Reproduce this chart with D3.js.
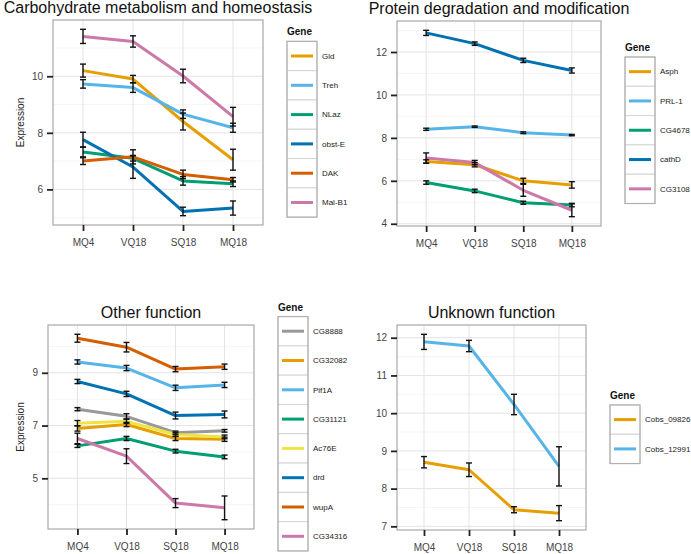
<!DOCTYPE html>
<html>
<head>
<meta charset="utf-8">
<script src="https://cdnjs.cloudflare.com/ajax/libs/d3/7.8.5/d3.min.js"></script>
<style>
body { margin: 0; background: #fff; }
svg { display: block; font-family: "Liberation Sans", Arial, sans-serif; }
</style>
</head>
<body>
<div id="chart"></div>
<script>
// stages on the x axis, shared by all four plots
const stages = ["MQ4", "VQ18", "SQ18", "MQ18"];

// Carbohydrate metabolism and homeostasis
const carbGenes = ["Gld", "Treh", "NLaz", "obst-E", "DAK", "Mal-B1"];
const carbColors = ["#E69F00", "#56B4E9", "#009E73", "#0072B2", "#D55E00", "#CC79A7"];
const carbMeans = [
	[10.2, 9.9, 8.4, 7.05],
	[9.73, 9.6, 8.66, 8.18],
	[7.32, 7.1, 6.3, 6.2],
	[7.76, 6.79, 5.22, 5.34],
	[7.0, 7.15, 6.53, 6.34],
	[11.41, 11.23, 10.01, 8.57]
];
const carbErrors = [
	[0.23, 0.13, 0.3, 0.37],
	[0.15, 0.17, 0.15, 0.16],
	[0.17, 0.1, 0.15, 0.1],
	[0.26, 0.4, 0.15, 0.25],
	[0.12, 0.25, 0.15, 0.08],
	[0.25, 0.2, 0.24, 0.33]
];
const carbTicks = [6, 8, 10];

// Protein degradation and modification
const protGenes = ["Asph", "PRL-1", "CG4678", "cathD", "CG3108"];
const protColors = ["#E69F00", "#56B4E9", "#009E73", "#0072B2", "#CC79A7"];
const protMeans = [
	[6.9, 6.75, 6.0, 5.81],
	[8.4, 8.52, 8.24, 8.13],
	[5.92, 5.53, 4.98, 4.87],
	[12.89, 12.39, 11.61, 11.14],
	[7.06, 6.85, 5.56, 4.63]
];
const protErrors = [
	[0.08, 0.1, 0.12, 0.15],
	[0.05, 0.03, 0.04, 0.03],
	[0.08, 0.08, 0.07, 0.08],
	[0.12, 0.08, 0.1, 0.12],
	[0.24, 0.1, 0.28, 0.3]
];
const protTicks = [4, 6, 8, 10, 12];

// Other function
const otherGenes = ["CG8888", "CG32082", "Pif1A", "CG31121", "Ac76E", "drd", "wupA", "CG34316"];
const otherColors = ["#999999", "#E69F00", "#56B4E9", "#009E73", "#F0E442", "#0072B2", "#D55E00", "#CC79A7"];
const otherMeans = [
	[7.62, 7.35, 6.73, 6.8],
	[6.89, 7.04, 6.51, 6.48],
	[9.41, 9.18, 8.43, 8.54],
	[6.23, 6.51, 6.03, 5.81],
	[7.09, 7.16, 6.66, 6.57],
	[8.67, 8.2, 7.38, 7.42],
	[10.31, 9.97, 9.14, 9.23],
	[6.51, 5.84, 4.06, 3.88]
];
const otherErrors = [
	[0.06, 0.1, 0.06, 0.05],
	[0.1, 0.08, 0.08, 0.08],
	[0.08, 0.1, 0.1, 0.1],
	[0.06, 0.08, 0.07, 0.07],
	[0.1, 0.08, 0.07, 0.07],
	[0.08, 0.1, 0.13, 0.13],
	[0.15, 0.18, 0.1, 0.1],
	[0.2, 0.28, 0.17, 0.45]
];
const otherTicks = [5, 7, 9];

// Unknown function
const unkGenes = ["Cobs_09826", "Cobs_12991"];
const unkColors = ["#E69F00", "#56B4E9"];
const unkMeans = [
	[8.7, 8.5, 7.44, 7.35],
	[11.89, 11.78, 10.23, 8.59]
];
const unkErrors = [
	[0.15, 0.18, 0.08, 0.2],
	[0.2, 0.15, 0.27, 0.52]
];
const unkTicks = [7, 8, 9, 10, 11, 12];


const svg = d3.select('#chart').append('svg')
	.attr('width', 691)
	.attr('height', 554);

function drawPanel(p){

	const g = svg.append('g');

	const x = d3.scalePoint().domain(stages).range([p.left, p.right]).padding(0.6);

	// ggplot style 5% expansion around mean +/- error
	let lo = d3.min(p.means, (row, i) => d3.min(row, (v, j) => v - p.errors[i][j]));
	let hi = d3.max(p.means, (row, i) => d3.max(row, (v, j) => v + p.errors[i][j]));
	let pad = (hi - lo) * 0.05;
	const y = d3.scaleLinear().domain([lo - pad, hi + pad]).range([p.bottom, p.top]);

	g.append('rect')
	.attr('x', p.left).attr('y', p.top)
	.attr('width', p.right - p.left).attr('height', p.bottom - p.top)
	.attr('fill', '#fff');

	// minor grid at half steps
	let step = p.ticks[1] - p.ticks[0];
	let minor = [];
	for (let v = p.ticks[0] - step * 1.5; v <= hi + pad; v += step) {
		if (v >= lo - pad) minor.push(v);
	}
	g.selectAll('.minor').data(minor).enter().append('line')
	.attr('x1', p.left).attr('x2', p.right)
	.attr('y1', d => y(d)).attr('y2', d => y(d))
	.attr('stroke', '#f2f2f2').attr('stroke-width', 0.8);

	g.selectAll('.major').data(p.ticks).enter().append('line')
	.attr('x1', p.left).attr('x2', p.right)
	.attr('y1', d => y(d)).attr('y2', d => y(d))
	.attr('stroke', '#e3e3e3').attr('stroke-width', 1);

	g.selectAll('.vgrid').data(stages).enter().append('line')
	.attr('x1', d => x(d)).attr('x2', d => x(d))
	.attr('y1', p.top).attr('y2', p.bottom)
	.attr('stroke', '#e3e3e3').attr('stroke-width', 1);

	// lines
	const line = d3.line().x((d, j) => x(stages[j])).y(d => y(d));
	p.means.forEach((row, i) => {
		g.append('path')
		.attr('d', line(row))
		.attr('fill', 'none')
		.attr('stroke', p.colors[i])
		.attr('stroke-width', 3)
		.attr('stroke-linejoin', 'round');
	});

	// error bars
	const cap = 3;
	p.means.forEach((row, i) => {
		row.forEach((v, j) => {
			let cx = x(stages[j]);
			let e = p.errors[i][j];
			let eb = g.append('g').attr('stroke', '#111').attr('stroke-width', 1.4);
			eb.append('line').attr('x1', cx).attr('x2', cx).attr('y1', y(v - e)).attr('y2', y(v + e));
			eb.append('line').attr('x1', cx - cap).attr('x2', cx + cap).attr('y1', y(v - e)).attr('y2', y(v - e));
			eb.append('line').attr('x1', cx - cap).attr('x2', cx + cap).attr('y1', y(v + e)).attr('y2', y(v + e));
		});
	});

	g.append('rect')
	.attr('x', p.left).attr('y', p.top)
	.attr('width', p.right - p.left).attr('height', p.bottom - p.top)
	.attr('fill', 'none')
	.attr('stroke', '#a8a8a8')
	.attr('stroke-width', 1.2);

	// axes
	let ax = g.append('g')
	.attr('transform', `translate(0,${p.bottom})`)
	.call(d3.axisBottom(x).tickSize(6).tickPadding(8));
	let ay = g.append('g')
	.attr('transform', `translate(${p.left},0)`)
	.call(d3.axisLeft(y).tickValues(p.ticks).tickFormat(d3.format('d')).tickSize(6).tickPadding(4));

	[ax, ay].forEach(a => {
		a.select('.domain').remove();
		a.selectAll('.tick line').attr('stroke', '#222').attr('stroke-width', 1.8);
		a.selectAll('.tick text')
		.attr('fill', '#444')
		.style('font-size', '10px')
		.style('font-family', '"Liberation Sans", Arial, sans-serif');
	});

	// title centered over the panel
	g.append('text')
	.attr('x', (p.left + p.right) / 2)
	.attr('y', p.top - 7)
	.attr('text-anchor', 'middle')
	.style('font-size', '16px')
	.attr('fill', '#111')
	.text(p.title);

	if (p.ylab) {
		let cy = (p.top + p.bottom) / 2;
		g.append('text')
		.attr('transform', `translate(24,${cy}) rotate(-90)`)
		.attr('text-anchor', 'middle')
		.style('font-size', '10px')
		.attr('fill', '#222')
		.text(p.ylab);
	}

	// legend
	const keyW = 30, keyH = 29.3;
	let lx = p.right + 24;
	let boxH = keyH * p.genes.length;
	let top = (p.top + p.bottom) / 2 - (boxH + 13.5) / 2 + 13.5;

	g.append('text')
	.attr('x', lx)
	.attr('y', top - 6)
	.style('font-size', '10px')
	.style('font-weight', 'bold')
	.attr('fill', '#111')
	.text('Gene');

	let keys = g.selectAll('.key').data(p.genes).enter().append('g')
	.attr('transform', (d, i) => `translate(${lx},${top + i * keyH})`);

	keys.append('rect')
	.attr('width', keyW).attr('height', keyH)
	.attr('fill', '#fff')
	.attr('stroke', '#d4d4d4')
	.attr('stroke-width', 1);

	keys.append('line')
	.attr('x1', 4).attr('x2', keyW - 4)
	.attr('y1', keyH / 2).attr('y2', keyH / 2)
	.attr('stroke', (d, i) => p.colors[i])
	.attr('stroke-width', 3);

	keys.append('text')
	.attr('x', keyW + 5)
	.attr('y', keyH / 2)
	.attr('dy', '0.35em')
	.style('font-size', '8px')
	.attr('fill', '#222')
	.text(d => d);

	g.append('rect')
	.attr('x', lx).attr('y', top)
	.attr('width', keyW).attr('height', boxH)
	.attr('fill', 'none')
	.attr('stroke', '#b0b0b0')
	.attr('stroke-width', 1.2);
}

drawPanel({
	title: 'Carbohydrate metabolism and homeostasis', ylab: 'Expression',
	genes: carbGenes, colors: carbColors, means: carbMeans, errors: carbErrors, ticks: carbTicks,
	left: 53, right: 263, top: 20, bottom: 225
});

drawPanel({
	title: 'Protein degradation and modification', ylab: null,
	genes: protGenes, colors: protColors, means: protMeans, errors: protErrors, ticks: protTicks,
	left: 397, right: 601, top: 21, bottom: 226
});

drawPanel({
	title: 'Other function', ylab: 'Expression',
	genes: otherGenes, colors: otherColors, means: otherMeans, errors: otherErrors, ticks: otherTicks,
	left: 48, right: 254, top: 325, bottom: 529
});

drawPanel({
	title: 'Unknown function', ylab: null,
	genes: unkGenes, colors: unkColors, means: unkMeans, errors: unkErrors, ticks: unkTicks,
	left: 397, right: 586, top: 325, bottom: 530
});
</script>
</body>
</html>
